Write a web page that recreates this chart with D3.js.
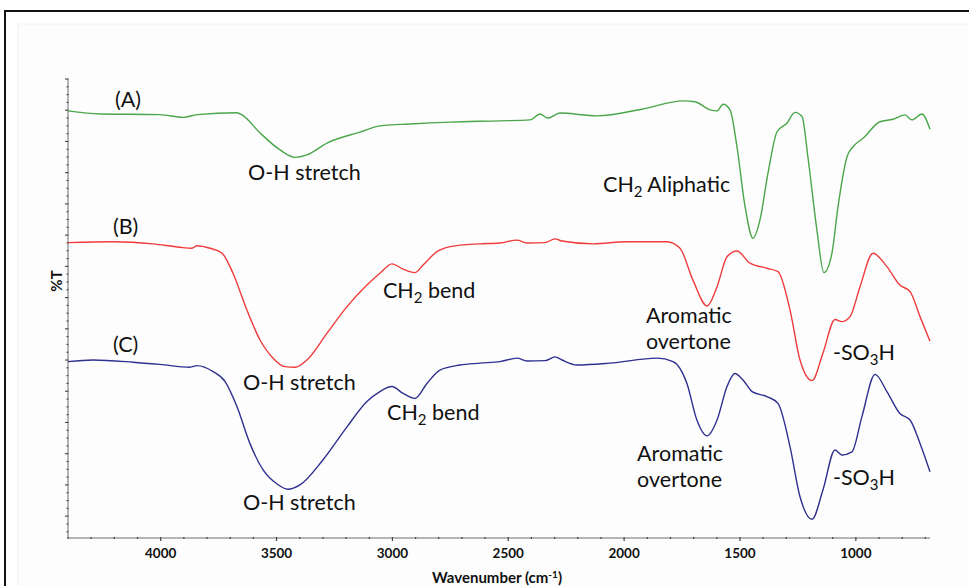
<!DOCTYPE html>
<html>
<head>
<meta charset="utf-8">
<script src="https://cdn.jsdelivr.net/npm/d3@7/dist/d3.min.js"></script>
<style>
  html, body { margin: 0; padding: 0; background: #fff; }
  svg { display: block; }
  text { font-family: Lato, "Open Sans", sans-serif; fill: #111; }
</style>
</head>
<body>
<svg id="chart" width="969" height="586"></svg>
<script>
// ---------- data (wavenumber cm^-1, %T offset) ----------
const waveA = [4400,4262,4003,3904,3843,3671,3649,3571,3485,3420,3369,3282,3140,3054,2924,2751,2536,2406,2363,2329,2277,2117,1919,1746,1694,1629,1599,1573,1543,1513,1478,1444,1414,1379,1340,1297,1263,1232,1207,1168,1138,1103,1077,1038,1012,969,896,840,788,758,715,680];
const valA  = [129.8,128.8,128.6,127.7,128.6,129.2,128.5,122.7,117.3,114.9,115.7,119.5,123.0,125.0,125.6,126.2,126.6,126.9,128.8,127.5,129.1,128.2,130.4,133.0,132.7,130.1,129.8,131.9,130.1,118.3,99.1,89.0,94.8,109.9,123.1,125.9,129.3,127.9,115.1,91.6,78.0,84.3,99.1,115.1,118.3,121.0,126.3,127.1,128.5,126.9,128.8,123.9];

const waveB = [4400,4206,4033,3917,3865,3843,3787,3735,3688,3628,3571,3515,3464,3420,3369,3282,3196,3110,3054,3002,2954,2903,2868,2808,2751,2708,2622,2536,2462,2419,2342,2298,2268,2134,1988,1815,1759,1703,1642,1599,1556,1513,1457,1384,1336,1284,1241,1189,1142,1090,1060,1025,982,926,866,810,766,723,680];
const valB  = [87.6,87.9,87.2,86.1,85.8,86.6,85.8,84.2,77.8,66.0,56.4,50.6,47.9,47.7,50.0,58.6,67.1,74.0,77.8,80.8,79.1,78.0,80.4,84.7,86.3,86.8,87.2,87.5,88.4,87.5,87.6,88.8,88.1,87.2,87.9,87.9,85.8,75.6,67.3,73.5,83.1,84.9,81.0,79.4,78.3,66.0,50.0,43.4,52.2,63.0,62.3,63.9,73.5,84.2,79.9,74.0,71.9,63.9,56.0];

const waveC = [4400,4292,4119,4003,3874,3843,3774,3722,3671,3615,3558,3498,3451,3399,3300,3196,3110,3054,3002,2954,2903,2851,2795,2708,2622,2536,2462,2419,2342,2298,2268,2203,2061,1858,1789,1729,1686,1642,1599,1556,1522,1487,1448,1384,1336,1284,1241,1189,1142,1090,1060,1017,974,917,866,810,766,723,680];
const valC  = [49.5,50.0,49.3,48.6,47.7,48.2,46.3,43.1,35.1,23.3,14.8,10.3,8.6,10.0,18.0,28.6,36.7,39.9,41.5,39.3,37.7,42.5,46.8,48.4,49.0,49.5,50.6,49.7,49.8,51.0,50.0,48.4,49.0,50.6,49.5,42.5,30.8,25.7,30.8,41.5,45.7,43.6,39.9,38.3,36.1,22.2,6.2,-1.0,8.4,21.2,19.6,20.6,31.8,45.4,39.9,32.9,30.8,23.3,14.2];

const seriesNames = ["A", "B", "C"];
const seriesColors = ["#4aa648", "#ee3b3b", "#2f3090"];

const xTickLabels = [4000, 3500, 3000, 2500, 2000, 1500, 1000];
const xMinorTicks = d3.range(700, 4401, 100);
const yMajorTicks = d3.range(0, 141, 10);
const yMinorTicks = d3.range(-5, 141, 2.5);

// annotations: [text before subscript, subscript, text after, wavenumber, %T]
const annotations = [
  ["(A)", "", "", 4197, 131.0],
  ["O-H stretch", "", "", 3623, 107.7],
  ["CH", "2", " Aliphatic", 2091, 103.8],
  ["(B)", "", "", 4206, 90.4],
  ["CH", "2", " bend", 3041, 69.9],
  ["Aromatic", "", "", 1906, 61.9],
  ["overtone", "", "", 1906, 53.4],
  ["-SO", "3", "H", 1099, 50.0],
  ["(C)", "", "", 4206, 52.6],
  ["O-H stretch", "", "", 3645, 40.4],
  ["CH", "2", " bend", 3023, 30.8],
  ["Aromatic", "", "", 1944, 17.7],
  ["overtone", "", "", 1944, 9.3],
  ["-SO", "3", "H", 1099, 10.0],
  ["O-H stretch", "", "", 3645, 2.0]
];

// ---------- drawing ----------
const svg = d3.select("#chart");

// outer frame
svg.append("rect").attr("x", 5).attr("y", 11).attr("width", 1200).attr("height", 900)
  .attr("fill", "none").attr("stroke", "#111").attr("stroke-width", 2);
svg.append("rect").attr("x", 18).attr("y", 24).attr("width", 1200).attr("height", 900)
  .attr("fill", "#fdfdfd").attr("stroke", "#f1f1f1").attr("stroke-width", 1);

const x = d3.scaleLinear().domain([4400, 680]).range([68, 930]);
const y = d3.scaleLinear().domain([-7, 140]).range([538, 79]);

// axes lines
svg.append("line").attr("x1", x(4400)).attr("x2", x(680)).attr("y1", y(-7)).attr("y2", y(-7))
  .attr("stroke", "#b5b5b5").attr("stroke-width", 2);
svg.append("line").attr("x1", x(4400)).attr("x2", x(4400)).attr("y1", y(-7)).attr("y2", y(140))
  .attr("stroke", "#b5b5b5").attr("stroke-width", 2);

// x ticks
svg.append("g").selectAll("line").data(xMinorTicks).join("line")
  .attr("x1", d => x(d)).attr("x2", d => x(d))
  .attr("y1", y(-7) - 1).attr("y2", d => xTickLabels.includes(d) ? y(-7) + 3 : y(-7) + 1)
  .attr("stroke", "#444").attr("stroke-width", 1.2);
svg.append("g").selectAll("text").data(xTickLabels).join("text")
  .attr("x", d => x(d)).attr("y", 558)
  .attr("text-anchor", "middle").attr("font-size", 13.5).attr("font-weight", "bold")
  .text(d => d);

// y ticks
svg.append("g").selectAll("line").data(yMinorTicks).join("line")
  .attr("x1", d => yMajorTicks.includes(d) ? x(4400) - 3 : x(4400) - 1.5)
  .attr("x2", x(4400) + 0.5)
  .attr("y1", d => y(d)).attr("y2", d => y(d))
  .attr("stroke", "#444").attr("stroke-width", 1.1);

// axis titles
const xt = svg.append("text").attr("x", 497).attr("y", 583)
  .attr("text-anchor", "middle").attr("font-size", 15).attr("font-weight", "bold");
xt.append("tspan").text("Wavenumber (cm");
xt.append("tspan").attr("font-size", 10).attr("dy", -5).text("-1");
xt.append("tspan").attr("dy", 5).text(")");

svg.append("text").attr("transform", "translate(62,281) rotate(-90)")
  .attr("text-anchor", "middle").attr("font-size", 15).attr("font-weight", "bold").text("%T");

// spectra
const allWaves = [waveA, waveB, waveC];
const allVals = [valA, valB, valC];
const line = d3.line().x(d => x(d[0])).y(d => y(d[1])).curve(d3.curveMonotoneX);
seriesNames.forEach((name, i) => {
  const pts = allWaves[i].map((w, j) => [w, allVals[i][j]]);
  svg.append("path").datum(pts).attr("d", line)
    .attr("fill", "none").attr("stroke", seriesColors[i]).attr("stroke-width", 1.4)
    .attr("stroke-linejoin", "round");
});

// annotations
annotations.forEach(a => {
  const t = svg.append("text").attr("x", x(a[3])).attr("y", y(a[4])).attr("font-size", 21.5);
  t.append("tspan").text(a[0]);
  if (a[1]) {
    t.append("tspan").attr("font-size", 15).attr("dy", 5).text(a[1]);
    t.append("tspan").attr("dy", -5).text(a[2]);
  }
});
</script>
</body>
</html>
